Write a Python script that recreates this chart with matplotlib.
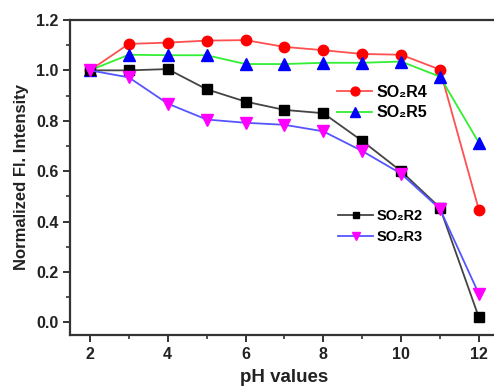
import matplotlib.pyplot as plt
from matplotlib.ticker import MultipleLocator

plt.rcParams['font.family'] = ['Liberation Sans', 'DejaVu Sans']
plt.rcParams['font.weight'] = 'bold'

# -----------------------------------
# data
# -----------------------------------
ph = [2, 3, 4, 5, 6, 7, 8, 9, 10, 11, 12]
so2r4 = [1.0, 1.105, 1.11, 1.118, 1.12, 1.093, 1.08, 1.065, 1.062, 1.003, 0.447]
so2r5 = [1.0, 1.062, 1.06, 1.06, 1.025, 1.025, 1.03, 1.03, 1.035, 0.975, 0.713]
so2r2 = [1.0, 1.0, 1.005, 0.925, 0.876, 0.843, 0.83, 0.72, 0.6, 0.455, 0.02]
so2r3 = [1.0, 0.972, 0.868, 0.805, 0.792, 0.784, 0.758, 0.68, 0.59, 0.45, 0.113]

fig = plt.figure(figsize=(4.94, 3.88), dpi=100)
ax = fig.add_axes([0.1427, 0.1366, 0.866, 0.812])

l4, = ax.plot(ph, so2r4, color='#ff5050', marker='o', ms=7.5, mfc='red', mec='red',
              lw=1.3, label='SO₂R4')
l5, = ax.plot(ph, so2r5, color='#33ee33', marker='^', ms=8, mfc='blue', mec='blue',
              lw=1.3, label='SO₂R5')
l2, = ax.plot(ph, so2r2, color='#444444', marker='s', ms=6.5, mfc='black', mec='black',
              lw=1.3, label='SO₂R2')
l3, = ax.plot(ph, so2r3, color='#5555ff', marker='v', ms=8, mfc='magenta', mec='magenta',
              lw=1.3, label='SO₂R3')

ax.set_xlim(1.5, 12.5)
ax.set_ylim(-0.05, 1.2)
ax.xaxis.set_major_locator(MultipleLocator(2))
ax.xaxis.set_minor_locator(MultipleLocator(1))
ax.yaxis.set_minor_locator(MultipleLocator(0.1))
ax.set_yticks([0.0, 0.2, 0.4, 0.6, 0.8, 1.0, 1.2])
ax.set_yticklabels(['0.0', '0.2', '0.4', '0.6', '0.8', '1.0', '1.2'])

for s in ax.spines.values():
    s.set_linewidth(1.6)
    s.set_color('#333333')
ax.tick_params(which='major', direction='out', length=5, width=1.4, colors='#333333',
               labelsize=11.5, labelcolor='#222222')
ax.tick_params(which='minor', direction='out', length=3, width=1.2, colors='#333333')

ax.set_xlabel('pH values', fontsize=13.5, fontweight='bold', color='#222222', labelpad=5)
ax.set_ylabel('Normalized Fl. Intensity', fontsize=12, fontweight='bold', color='#222222',
              labelpad=5)

leg1 = ax.legend(handles=[l4, l5], loc='upper left', bbox_to_anchor=(0.59, 0.84),
                 frameon=False, fontsize=11.5, handlelength=2.2, handletextpad=0.25,
                 labelspacing=0.35, markerscale=0.85)
ax.add_artist(leg1)
ax.legend(handles=[l2, l3], loc='upper left', bbox_to_anchor=(0.595, 0.44),
          frameon=False, fontsize=10.5, handlelength=2.4, handletextpad=0.25,
          labelspacing=0.45, markerscale=0.75)

fig.savefig('out.png', dpi=100)
